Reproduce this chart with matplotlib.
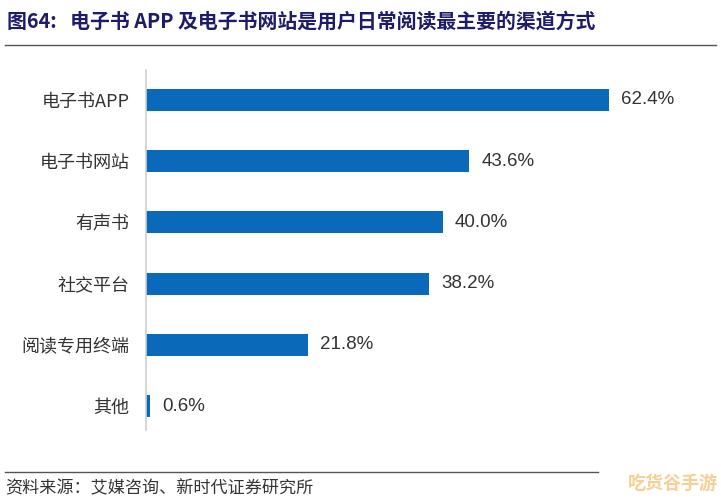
import matplotlib.pyplot as plt
from matplotlib.lines import Line2D

plt.rcParams['font.family'] = ['Noto Sans CJK SC', 'DejaVu Sans']

categories = ["电子书APP", "电子书网站", "有声书", "社交平台", "阅读专用终端", "其他"]
values = [62.4, 43.6, 40.0, 38.2, 21.8, 0.6]

title = "图64:   电子书 APP 及电子书网站是用户日常阅读最主要的渠道方式"
source = "资料来源：艾媒咨询、新时代证券研究所"

fig = plt.figure(figsize=(7.21, 5.0), dpi=100)
ax = fig.add_axes([0.2025, 0.14, 0.72, 0.72])

ypos = list(range(len(categories)))
ax.barh(ypos, values, height=0.36, color="#0a69b8")
for y, v in zip(ypos, values):
    ax.text(v + 1.6, y, f"{v:.1f}%", va="center", ha="left", fontsize=13.5,
            color="#333333", family=["Liberation Sans", "DejaVu Sans"])

ax.set_yticks(ypos)
ax.set_yticklabels(categories, fontsize=13, color="#333333")
ax.set_ylim(5.39, -0.49)
ax.set_xlim(0, 70)
ax.set_xticks([])
ax.tick_params(axis="y", length=0, pad=12)
for s in ["top", "right", "bottom"]:
    ax.spines[s].set_visible(False)
ax.spines["left"].set_color("#d0d0d0")
ax.spines["left"].set_linewidth(1.2)

fig.text(0.01, 0.958, title, fontsize=14.3, fontweight="bold", color="#1c1c6b",
         va="center", ha="left")
fig.add_artist(Line2D([0.007, 0.993], [0.91, 0.91], color="#555555", lw=1.0))
fig.add_artist(Line2D([0.007, 0.83], [0.056, 0.056], color="#555555", lw=1.0))
fig.text(0.007, 0.024, source, fontsize=12.3, color="#333333", va="center", ha="left")
fig.text(0.995, 0.034, "吃货谷手游", fontsize=13, fontweight="bold", color="#f5c27a",
         va="center", ha="right", alpha=0.8)

fig.savefig("out.png", dpi=100)
